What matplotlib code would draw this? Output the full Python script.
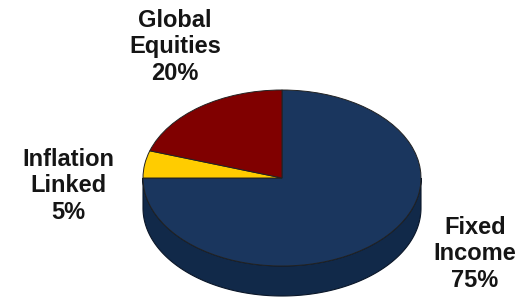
import matplotlib
matplotlib.use("Agg")
import matplotlib.pyplot as plt
from matplotlib.patches import Polygon
import numpy as np

# 数据
labels = ["Fixed\nIncome", "Inflation\nLinked", "Global\nEquities"]
shares = [75, 5, 20]
colors = ["#1A365E", "#FFCC00", "#800000"]
side_color = "#112949"

W, H = 524, 299
fig = plt.figure(figsize=(W / 100, H / 100), dpi=100)
ax = fig.add_axes([0, 0, 1, 1])

# 椭圆饼图: x 单位 = rx 像素, y 单位 = ry 像素
cx, cy, rx, ry = 282, 178, 139, 88
depth = 30 / ry

# 侧面 (下半圈)
t = np.linspace(np.pi, 2 * np.pi, 200)
top = np.column_stack([np.cos(t), np.sin(t)])
bot = np.column_stack([np.cos(t[::-1]), np.sin(t[::-1]) - depth])
ax.add_patch(Polygon(np.vstack([top, bot]), closed=True, facecolor=side_color,
                     edgecolor="#0A1628", linewidth=0.8, zorder=1))

ax.pie(shares, colors=colors, startangle=90, counterclock=False,
       radius=1, center=(0, 0), frame=True,
       wedgeprops=dict(edgecolor="#222222", linewidth=0.7, zorder=2))
ax.set_aspect("auto")
ax.set_xlim(-cx / rx, (W - cx) / rx)
ax.set_ylim((cy - H) / ry, cy / ry)
ax.axis("off")

# 标签
label_pos = [(475, 254), (68, 186), (175, 47)]
for lab, s, (px, py) in zip(labels, shares, label_pos):
    fig.text(px / W, 1 - py / H, f"{lab}\n{s}%", ha="center", va="center",
             multialignment="center", fontsize=17, fontweight="bold",
             family="Liberation Sans", color="#151515")

fig.savefig("out.png", dpi=100)
